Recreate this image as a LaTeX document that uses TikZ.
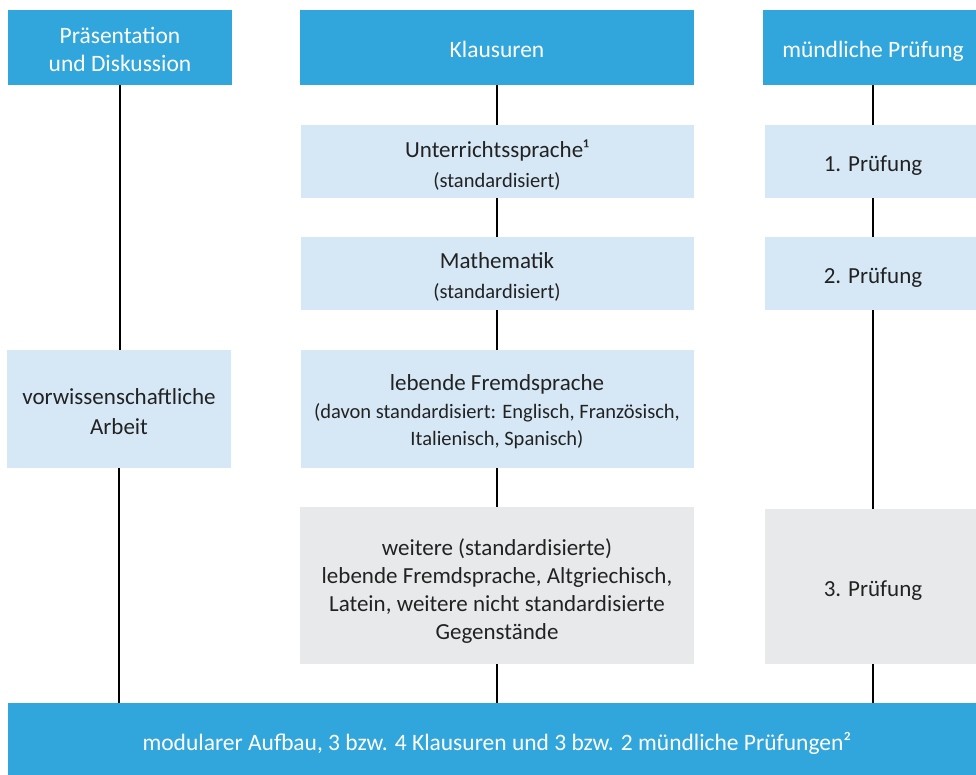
\documentclass[tikz,border=0pt]{standalone}
\usepackage{fontspec}
\setmainfont{Carlito}
\definecolor{hdr}{HTML}{30A6DC}
\definecolor{lbox}{HTML}{D6E8F6}
\definecolor{gbox}{HTML}{E8E9EB}
\definecolor{txt}{HTML}{222222}
\tikzset{
  head/.style={fill=hdr,inner sep=0pt,minimum height=75pt},
  lb/.style={fill=lbox,inner sep=0pt},
  gb/.style={fill=gbox,inner sep=0pt},
  htx/.style={text=white,inner sep=0pt,align=center,font=\fontsize{23.5}{28}\selectfont},
  btx/.style={text=txt,inner sep=0pt,align=center,font=\fontsize{23}{30}\selectfont},
  conn/.style={draw=black,line width=1.6pt}
}
\newcommand{\subt}[1]{{\fontsize{20.5}{\the\baselineskip}\selectfont #1}}
\begin{document}
\begin{tikzpicture}[x=1pt,y=-1pt]
\useasboundingbox (0,0) rectangle (976,774);
\clip (0,0) rectangle (976,774);
% headers
\node[head,minimum width=224pt] (h1) at (120,47.5) {};
\node[head,minimum width=394pt] (h2) at (497,47.5) {};
\node[head,minimum width=220pt] (h3) at (873,47.5) {};
% middle column
\node[lb,minimum width=393pt,minimum height=73pt] (u) at (497,161.5) {};
\node[lb,minimum width=393pt,minimum height=73pt] (m) at (497,273.5) {};
\node[lb,minimum width=393pt,minimum height=118pt] (l) at (497,409) {};
\node[gb,minimum width=394pt,minimum height=157pt] (w) at (497,585.5) {};
% left column
\node[lb,minimum width=224pt,minimum height=118pt] (v) at (119,409) {};
% right column
\node[lb,minimum width=216pt,minimum height=73pt] (p1) at (873,161.5) {};
\node[lb,minimum width=216pt,minimum height=73pt] (p2) at (873,273.5) {};
\node[gb,minimum width=216pt,minimum height=155pt] (p3) at (873,586.5) {};
% bottom bar
\node[fill=hdr,inner sep=0pt,minimum width=978pt,minimum height=72pt] (b) at (497,739) {};
% texts
\node[htx] (h1t) at ([yshift=-2pt]h1.center) {Präsentation\\und Diskussion};
\node[htx] (h2t) at ([yshift=-2pt]h2.center) {Klausuren};
\node[htx] (h3t) at ([yshift=-4pt]h3.center) {mündliche Prüfung};
\node[btx] (ut) at ([yshift=-3.5pt]u.center) {Unterrichtssprache¹\\\subt{(standardisiert)}};
\node[btx] (mt) at ([yshift=-3.5pt]m.center) {Mathematik\\\subt{(standardisiert)}};
\node[btx,font=\fontsize{23}{27.5}\selectfont] (lt) at ([yshift=-3pt]l.center) {lebende Fremdsprache\\\subt{(davon standardisiert: Englisch, Französisch,}\\\subt{Italienisch, Spanisch)}};
\node[btx,font=\fontsize{23}{28}\selectfont] (wt) at ([yshift=-5.5pt]w.center) {weitere (standardisierte)\\lebende Fremdsprache, Altgriechisch,\\Latein, weitere nicht standardisierte\\Gegenstände};
\node[btx] (vt) at ([yshift=-2.5pt]v.center) {vorwissenschaftliche\\Arbeit};
\node[btx] (p1t) at ([yshift=-4pt]p1.center) {1. Prüfung};
\node[btx] (p2t) at ([yshift=-4pt]p2.center) {2. Prüfung};
\node[btx] (p3t) at ([yshift=-4pt]p3.center) {3. Prüfung};
\node[htx] (bt) at ([yshift=-4pt]b.center) {modularer Aufbau, 3 bzw. 4 Klausuren und 3 bzw. 2 mündliche Prüfungen²};
% connectors
\draw[conn] (h1.south) -- (h1.south |- v.north);
\draw[conn] (v.south) -- (v.south |- b.north);
\draw[conn] (h2.south) -- (u.north);
\draw[conn] (u.south) -- (m.north);
\draw[conn] (m.south) -- (l.north);
\draw[conn] (l.south) -- (w.north);
\draw[conn] (w.south) -- (b.north);
\draw[conn] (h3.south) -- (p1.north);
\draw[conn] (p1.south) -- (p2.north);
\draw[conn] (p2.south) -- (p3.north);
\draw[conn] (p3.south) -- (p3.south |- b.north);
\end{tikzpicture}
\end{document}
